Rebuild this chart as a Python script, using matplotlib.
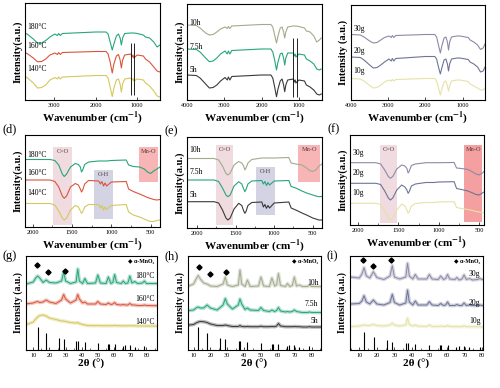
import matplotlib
matplotlib.use('Agg')
import matplotlib.pyplot as plt
from matplotlib.ticker import MultipleLocator

plt.rcParams['font.family'] = ['Liberation Serif', 'DejaVu Serif']
plt.rcParams['mathtext.fontset'] = 'stix'

# ---------------- FTIR, full range (top row) ----------------
ftir_x = [4000, 3750, 3650, 3500, 3400, 3300, 3200, 3100, 2980, 2920, 2890, 2850, 2800, 2000,
          1750, 1700, 1650, 1600, 1560, 1500, 1450, 1410, 1380, 1350, 1300, 1150, 1120, 1100,
          1080, 1000, 850, 800, 700, 600, 520, 450, 400]

a_180 = [67.5, 67.5, 66, 61, 57, 57, 59.5, 63, 66, 64.5, 66.5, 64.5, 66.5, 68, 68, 66, 58, 50, 56, 64,
         66, 62, 55, 62, 66.5, 67, 67, 67, 67, 66.5, 65, 63, 62, 58, 53, 55, 58]
a_160 = [48, 48, 46.5, 42, 38.3, 38.5, 41, 45, 47, 45.5, 47.5, 45.5, 47.5, 48.5, 48.5, 46, 38, 27, 36, 44,
         45.5, 40, 32, 40, 45, 46, 43, 45, 42, 45, 44, 41, 38, 33, 29, 28, 29]
a_140 = [24, 24, 22.5, 17, 12, 12.5, 15, 20, 22.5, 21, 23, 21, 23, 24.5, 24.5, 22, 13, 3.5, 12, 20,
         21, 16, 8, 16, 21, 22, 20, 21.5, 19, 21, 20, 17, 14, 9, 4, 3, 4]

b_10h = [75, 74.5, 72, 67, 65, 65.5, 68, 71, 73, 71.5, 73.5, 71.5, 74, 75.5, 75.5, 73, 65, 57, 64, 72,
         73, 68, 62, 68, 73, 74, 74, 74, 74, 73.5, 72, 69, 68, 64, 58, 60, 62]
b_75h = [51, 50.5, 48, 42, 38.3, 39, 42, 46, 49, 46, 49, 46, 49.5, 51, 51, 48, 40, 30, 38, 46,
         47, 42, 35, 42, 47, 47, 44, 46, 43, 46, 45, 41, 39, 36, 31, 30, 31]
b_5h = [25, 24.5, 22, 16, 12, 12.5, 15, 19, 22.5, 20, 23, 20, 23.5, 25, 25, 22, 13, 3.3, 11, 19,
        21, 15, 8.3, 15, 20, 21, 18, 20, 17, 20, 19, 15, 13, 10, 6, 5, 6]

c_30g = [65.5, 65, 63, 59, 57, 57.5, 60, 62.5, 64, 62.5, 64.5, 62.5, 64.5, 65.5, 65.5, 63, 55, 47, 54, 62,
         63, 58, 50, 58, 63, 64, 64, 64, 64, 63.5, 62.5, 60, 58, 55, 50.5, 52, 56]
c_20g = [43, 42.5, 40, 35, 32, 32.5, 35, 38, 41, 39, 41.5, 39, 41.5, 43.5, 43.5, 41, 33, 26, 32, 40,
         41, 36, 29, 36, 41, 42, 42, 42, 42, 41.5, 40.5, 38, 36, 33, 28, 29, 33]
c_10g = [21.5, 21, 19, 14.5, 12, 12.5, 15, 18, 20, 19, 20.5, 19, 20.5, 21.5, 21.5, 19, 12, 5, 11, 18,
         19, 14, 9, 14, 19, 20, 20, 20, 20, 19.5, 18.5, 16, 14, 12, 10, 10, 12]

# marker lines drawn over the spectra in (a) and (b)
a_vlines = [1150, 1070]
b_vlines = [1150, 1060]

# ---------------- FTIR, 2100-400 cm-1 (middle row) ----------------
zoom_x = [2150, 1780, 1720, 1670, 1625, 1600, 1570, 1520, 1460, 1420, 1395, 1380, 1365, 1340, 1290,
          1160, 1140, 1120, 1100, 1080, 1060, 1000, 810, 780, 720, 640, 580, 540, 500, 460, 420, 380]

d_180 = [67.5, 67.5, 66.5, 62, 53, 50.5, 53, 60, 63.5, 62.5, 60, 55, 57, 62.5, 65, 66, 66, 66, 66, 66,
         66, 66.5, 67, 62, 60.5, 60, 58, 55, 53.5, 56, 58, 60]
d_160 = [47, 47, 45.5, 40, 31, 28.7, 31, 40, 43.5, 42, 38, 35, 37, 43, 46.5, 46, 43, 45.5, 41, 44,
         41, 45, 45.5, 38, 35.5, 33, 31, 29.5, 28.5, 27.5, 27, 27.5]
d_140 = [23.5, 23.5, 22, 16, 9, 7, 9, 17, 21.5, 20, 16, 13.7, 15, 20, 22.5, 22.5, 19, 21.5, 17, 20,
         17.5, 21.5, 22.5, 15, 12, 10, 8, 6.5, 5.5, 5.5, 6.5, 7]

e_10h = [69.5, 69.5, 68, 62, 54.5, 53, 55, 63, 66.5, 65, 62, 58, 60, 65, 68.5, 70, 70, 70, 70, 70,
         70, 70, 70.5, 65, 64, 63, 60, 57.5, 56.5, 58, 62, 64]
e_75h = [48, 48, 46.5, 40, 33, 31.3, 33, 42, 46.3, 44, 39, 36.3, 38.5, 44, 47, 47.5, 44, 46.5, 42.5, 45.5,
         43, 47, 47.5, 41.5, 40, 37, 35, 34, 33, 32, 31.3, 31.5]
e_5h = [26.3, 26.3, 25, 18, 10, 8, 10, 19, 24.7, 22.5, 17, 14.7, 16.5, 22.5, 25.5, 26, 21, 23.5, 19.7, 22.5,
        20, 25, 26, 20, 18, 15, 13, 11.5, 10, 9, 8, 8]

f_30g = [62.3, 62.3, 61, 55, 48.5, 46.7, 48.5, 56, 60, 59, 56.5, 52, 54, 59.5, 61, 62.3, 62.3, 62.3, 62.3, 62.3,
         62.3, 62.3, 62.5, 57, 56.5, 55.5, 53, 51, 50, 52, 55, 57]
f_20g = [41.7, 41.7, 40.5, 34, 27, 25, 27, 35, 40, 38, 35, 31.7, 33.5, 39, 41, 42.5, 42.5, 42.5, 42.5, 42.5,
         42.5, 43, 43.3, 36.5, 35.5, 34, 32, 30.5, 30, 32, 34, 35.5]
f_10g = [21.7, 21.7, 20.5, 14, 7, 5, 7, 15, 21, 19, 15, 11.7, 13.5, 19, 21.5, 22.5, 22.5, 22.5, 22.5, 22.5,
         22.5, 23, 23.3, 17.5, 16.5, 15.5, 14.5, 13.5, 13, 12.5, 12, 12]

# highlighted bands: (x from, x to, y from, y to)
d_bands = {'C=O': (1742, 1496, 2, 80), 'O-H': (1224, 978, 7.7, 57), 'Mn-O': (647, 405, 45.3, 80)}
e_bands = {'C=O': (1748, 1531, 3, 83), 'O-H': (1230, 991, 13, 61.3), 'Mn-O': (688, 407, 46.3, 83)}
f_bands = {'C=O': (1725, 1516, 2, 80), 'Mn-O': (684, 463, 3, 80)}

# ---------------- XRD (bottom row) ----------------
xrd_x = [5, 10, 11.5, 12.7, 14, 16, 18, 20, 24, 27.5, 28.8, 30, 33, 36.5, 37.5, 38.5, 40.5, 41.9, 43.5,
         48.5, 49.9, 51.5, 55, 56.4, 58, 59.2, 60.3, 61.5, 64.5, 65.6, 67, 68.5, 69.7, 71, 72.7, 74.5,
         77.5, 78.7, 80, 87]

g_180 = [65.7, 68, 72, 74, 72, 67.5, 70, 67.5, 67, 69, 78, 69, 66.5, 68, 81, 69, 66.5, 71.5, 66.5, 67,
         75, 67, 66.5, 73, 66.5, 67.5, 75.5, 67.5, 66.5, 69, 66.5, 67, 74, 67, 68.5, 66.5, 67, 69, 66.5, 66.5]
g_160 = [46, 47, 48, 48.5, 47.5, 48, 50, 48, 46.5, 50, 55.5, 51, 47, 50, 55.5, 51, 47, 48, 46, 46,
         48.5, 46, 45.5, 47, 45.5, 46, 47.5, 45.5, 45, 45.5, 45, 45, 46.5, 45, 45, 44.5, 44.5, 45, 44.5, 44.3]
g_140 = [25, 28, 31, 33, 34.5, 35, 34, 32, 30.5, 29, 29, 28.5, 27.5, 27, 27.5, 26.5, 25.5, 25, 24.5, 24.3,
         24.5, 24.3, 24.3, 24.3, 24.3, 24.3, 24.5, 24.3, 24.2, 24.2, 24.2, 24.2, 24.3, 24.2, 24.2, 24, 24, 24, 24, 24]

h_10h = [62.5, 66, 71, 74.5, 71, 67, 66, 64, 63.5, 66, 73, 65, 63.5, 65, 80, 66, 63.5, 70, 63.5, 64,
         73, 64, 63.5, 72, 64, 65, 76.5, 64.5, 63.5, 66.5, 63.5, 64.5, 73, 64, 65, 63.5, 63.5, 65, 63.5, 63.3]
h_75h = [39, 40, 42, 43, 42, 42, 45, 42, 40, 45, 51.5, 46, 41, 45, 51, 46, 40.5, 42, 40, 39.5,
         42.5, 39.5, 38.5, 40, 38.5, 39.5, 42.5, 39, 38, 38.5, 38, 38.5, 40, 38.5, 38, 37.5, 37.5, 38, 37.5, 37.5]
h_5h = [24.5, 25.5, 27, 28, 28.5, 28.3, 27.5, 26, 24.5, 24.5, 25, 24.5, 23.5, 23.5, 24.5, 23.5, 23.3, 23.5, 23.3, 23.3,
        23.8, 23.3, 23.3, 23.5, 23.3, 24, 26.5, 24, 23.3, 23.3, 23.3, 23.3, 23.5, 23.3, 23.3, 23, 23, 23.3, 23, 23]

i_30g = [73, 72, 76, 82.3, 74, 72, 78.3, 72.5, 70.5, 74, 84.3, 73, 71, 73, 86.7, 74, 71, 75.5, 71, 71,
         75.5, 71, 70.5, 74, 70.5, 71.5, 75.5, 71, 70.5, 72.5, 70, 71, 75, 70.5, 71.5, 70, 70.5, 71.5, 70.5, 70]
i_20g = [46, 46.5, 49, 54.3, 48, 46, 50, 46, 45, 47.5, 55.7, 47.5, 45, 47, 60, 48, 45, 49, 45, 45,
         48.3, 45, 44.5, 46.5, 44.5, 45, 48, 44.5, 44.5, 45.5, 44.5, 44.5, 47, 44.5, 45, 44.5, 44.5, 45, 44.5, 44.5]
i_10g = [23.5, 24, 24.5, 25, 24.5, 24.5, 25.5, 24.5, 24, 25, 26.7, 25, 24, 25, 31.7, 25.5, 24, 25, 23.8, 23.5,
         25, 23.5, 23.5, 24, 23.5, 23.5, 24.5, 23.5, 23.3, 23.5, 23.3, 23.3, 24.3, 23.3, 23.3, 23.3, 23.3, 23.3, 23, 23]

# alpha-MnO2 reference pattern (relative intensities)
ref_pos = [12.7, 18.1, 25.7, 28.8, 36.7, 37.5, 41.9, 49.9, 56.2, 56.8, 60.3, 65.2, 66.7, 69.7, 72.7, 78.6]
ref_int = [100, 72, 53, 47, 38, 38, 36, 30, 28, 28, 26, 18, 20, 21, 15, 17]

# diamond markers of alpha-MnO2 peaks
g_marks = ([12.5, 19, 29.5], [85, 78.3, 79])
h_marks = ([13, 19.5, 29.5], [83.3, 75.7, 77.7])
i_marks = ([12, 17.6, 28], [90, 84.3, 90])

# colours
green = '#27a57c'
red = '#d9553d'
yellow = '#d6c85c'
olive = '#a3ab8d'
dark = '#3a3a3a'
purple = '#8d8aa7'
slate = '#6f7496'
pale = '#e6e2a8'

fig = plt.figure(figsize=(5, 3.88), dpi=100)
W, H = 500, 388


def make_ax(x0, x1, y0, y1):
    return fig.add_axes([x0 / W, 1 - y1 / H, (x1 - x0) / W, (y1 - y0) / H])


def style(ax, xlabel, ylabel, ysize=7.5):
    ax.set_yticks([])
    ax.tick_params(axis='x', direction='in', labelsize=4.5, length=2, width=0.5, pad=2)
    ax.tick_params(axis='x', which='minor', direction='in', length=1.2, width=0.4)
    for s in ax.spines.values():
        s.set_linewidth(0.8)
    ax.set_xlabel(xlabel, fontsize=8, fontweight='bold', labelpad=1)
    ax.set_ylabel(ylabel, fontsize=ysize, fontweight='bold', labelpad=2)


def curve_labels(ax, names, ys, xpos=0.02, ha='left'):
    for n, y in zip(names, ys):
        ax.text(xpos, y, n, transform=ax.get_yaxis_transform(), fontsize=5.5, ha=ha, va='bottom')


wn_label = r'Wavenumber (cm$^{\mathbf{-1}}$)'

# (a)
ax = make_ax(25, 160, 3, 100)
for y, c in zip([a_180, a_160, a_140], [green, red, yellow]):
    ax.plot(ftir_x, y, color=c, lw=0.8)
ax.vlines(a_vlines, 5, 57, color='k', lw=0.6)
ax.set_xlim(3700, 450)
ax.set_ylim(0, 97)
ax.set_xticks([3000, 2000, 1000])
style(ax, wn_label, 'Intensity(a.u.)')
curve_labels(ax, ['180°C', '160°C', '140°C'], [69, 50, 27])

# (b)
ax = make_ax(187, 322, 4, 100)
for y, c in zip([b_10h, b_75h, b_5h], [olive, green, dark]):
    ax.plot(ftir_x, y, color=c, lw=0.8)
ax.vlines(b_vlines, 3, 62, color='k', lw=0.6)
ax.set_xlim(4000, 380)
ax.set_ylim(0, 96)
ax.set_xticks([4000, 3000, 2000, 1000])
style(ax, wn_label, 'Intensity(a.u.)')
curve_labels(ax, ['10h', '7.5h', '5h'], [73, 49, 26])

# (c)
ax = make_ax(351, 485, 5, 100)
for y, c in zip([c_30g, c_20g, c_10g], [purple, slate, pale]):
    ax.plot(ftir_x, y, color=c, lw=0.8)
ax.set_xlim(4000, 400)
ax.set_ylim(0, 95)
ax.set_xticks([4000, 3000, 2000, 1000])
style(ax, wn_label, 'Intensity (a.u.)')
curve_labels(ax, ['30g', '20g', '10g'], [67, 45, 25])

# middle row
band_colors = {'C=O': '#ecd3d9', 'O-H': '#c9c9de', 'Mn-O': '#f5a3a3'}


def zoom_panel(box, series, colors, bands, xlim, ylim, names, label_ys, tag, mno_color='#f5a3a3'):
    ax = make_ax(*box)
    for name, (x1, x2, y1, y2) in bands.items():
        col = mno_color if name == 'Mn-O' else band_colors[name]
        ax.fill_between([x1, x2], y1, y2, color=col, alpha=0.8, lw=0, zorder=0)
        ax.text((x1 + x2) / 2, y2 - 2, name, fontsize=4.5, ha='center', va='top', color='#5a3a3a')
    for y, c in zip(series, colors):
        ax.plot(zoom_x, y, color=c, lw=0.8, zorder=2)
    ax.set_xlim(*xlim)
    ax.set_ylim(0, ylim)
    ax.set_xticks([2000, 1500, 1000, 500])
    ax.xaxis.set_minor_locator(MultipleLocator(250))
    style(ax, wn_label, 'Intensity(a.u.)')
    curve_labels(ax, names, label_ys)
    ax.text(-0.17, 1.0, tag, transform=ax.transAxes, fontsize=9, ha='left', va='bottom')
    return ax


zoom_panel((25, 160, 135, 227), [d_180, d_160, d_140], [green, red, yellow], d_bands,
           (2100, 380), 92, ['180°C', '160°C', '140°C'], [68, 50, 30], '(d)')
zoom_panel((187, 322, 137, 228), [e_10h, e_75h, e_5h], [olive, green, dark], e_bands,
           (2130, 380), 91, ['10h', '7.5h', '5h'], [74, 52, 29], '(e)')
zoom_panel((350, 484, 135, 225), [f_30g, f_20g, f_10g], [purple, slate, pale], f_bands,
           (2100, 440), 90, ['30g', '20g', '10g'], [68, 48, 28], '(f)', mno_color='#f28888')


# bottom row
def xrd_panel(box, series, colors, xlim, names, label_ys, marks, stick_scale, tag):
    ax = make_ax(*box)
    for y, c in zip(series, colors):
        ax.plot(xrd_x, y, color=c, lw=2.6, alpha=0.35, solid_joinstyle='round')
        ax.plot(xrd_x, y, color=c, lw=0.7)
    ax.vlines(ref_pos, 0, [v * stick_scale for v in ref_int], color='k', lw=0.8)
    ax.plot(marks[0], marks[1], 'D', color='k', ms=2.6)
    ax.text(0.98, 0.97, '◆ α-MnO₂', transform=ax.transAxes, fontsize=4.2, ha='right', va='top',
            fontweight='bold')
    ax.set_xlim(*xlim)
    ax.set_ylim(0, 94)
    ax.set_xticks(range(10, 90, 10))
    ax.xaxis.set_minor_locator(MultipleLocator(5))
    style(ax, '2θ (°)', 'Intensity (a.u.)', ysize=7)
    curve_labels(ax, names, label_ys, xpos=0.98, ha='right')
    ax.text(-0.18, 1.0, tag, transform=ax.transAxes, fontsize=9, ha='left', va='center')


xrd_panel((26, 157, 256, 350), [g_180, g_160, g_140], [green, red, yellow], (5.5, 86.5),
          ['180°C', '160°C', '140°C'], [70, 47, 24], g_marks, 0.23, '(g)')
xrd_panel((188, 321, 256, 350), [h_10h, h_75h, h_5h], [olive, green, dark], (6.7, 85.5),
          ['10h', '7.5h', '5h'], [63, 42, 25], h_marks, 0.23, '(h)')
xrd_panel((350, 483, 256, 350), [i_30g, i_20g, i_10g], [purple, slate, pale], (4.7, 80.5),
          ['30g', '20g', '10g'], [72, 43, 25], i_marks, 0.18, '(i)')

fig.savefig('out.png', dpi=100)
